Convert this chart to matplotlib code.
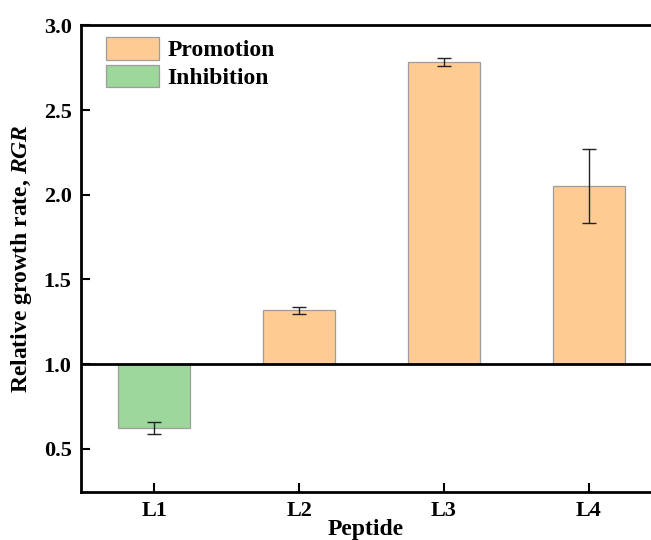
import matplotlib
matplotlib.use('Agg')
from matplotlib import pyplot
from matplotlib.patches import Patch

peptides = ['L1', 'L2', 'L3', 'L4']
rgr = [0.622, 1.317, 2.785, 2.052]
rgr_err = [0.037, 0.022, 0.024, 0.22]
legend_labels = ['Promotion', 'Inhibition']

promo_colour = '#FECC93'
inhib_colour = '#9DD79C'
edge_colour = '#9c9c9c'

pyplot.rcParams['font.family'] = ['Liberation Serif', 'DejaVu Serif']
pyplot.rcParams['font.weight'] = 'bold'
pyplot.rcParams['mathtext.fontset'] = 'custom'
pyplot.rcParams['mathtext.bfit'] = 'Liberation Serif:bold:italic'
pyplot.rcParams['mathtext.bf'] = 'Liberation Serif:bold'
pyplot.rcParams['mathtext.rm'] = 'Liberation Serif:bold'

dpi = 100.
fig = pyplot.figure(figsize=(651/dpi, 540/dpi), dpi=dpi)
ax = fig.add_axes([0.1249, 0.0894, 0.8751, 0.8634])

x = list(range(len(peptides)))
colours = [promo_colour if v >= 1 else inhib_colour for v in rgr]
heights = [v - 1.0 for v in rgr]
ax.bar(x, heights, bottom=1.0, width=0.5, color=colours,
       edgecolor=edge_colour, linewidth=0.9, zorder=2)
ax.errorbar(x, rgr, yerr=rgr_err, fmt='none', ecolor='#222222',
            elinewidth=1.0, capsize=5, capthick=1.0, zorder=3)

# baseline at RGR = 1
ax.axhline(1.0, color='black', lw=2.0, zorder=4)

ax.set_xlim(-0.504, 3.43)
ax.set_ylim(0.246, 3.0)
ax.set_xticks(x)
ax.set_xticklabels(peptides)
ax.set_yticks([0.5, 1.0, 1.5, 2.0, 2.5, 3.0])
ax.tick_params(axis='both', direction='in', length=6.5, width=1.5,
               labelsize=16)
ax.tick_params(axis='y', pad=7)
ax.tick_params(axis='x', pad=7)
for lab in ax.get_xticklabels() + ax.get_yticklabels():
    lab.set_fontweight('bold')

for side in ['left', 'bottom', 'top']:
    ax.spines[side].set_linewidth(2.0)
ax.spines['right'].set_visible(False)

ax.set_xlabel('Peptide', fontsize=17, fontweight='bold', labelpad=-2)
ax.set_ylabel(r'Relative growth rate, $\mathbfit{RGR}$', fontsize=17,
              fontweight='bold')
ax.yaxis.set_label_coords(-0.083, 0.5)

handles = [Patch(facecolor=promo_colour, edgecolor=edge_colour, lw=0.9),
           Patch(facecolor=inhib_colour, edgecolor=edge_colour, lw=0.9)]
legend = ax.legend(handles, legend_labels, loc='upper left',
                   bbox_to_anchor=(0.043, 0.975), frameon=False,
                   prop={'family': 'Liberation Serif', 'weight': 'bold', 'size': 17},
                   handlelength=2.25, handleheight=1.09, handletextpad=0.37,
                   labelspacing=0.15, borderaxespad=0., borderpad=0.)

pyplot.savefig('out.png', dpi=dpi)
pyplot.close()
